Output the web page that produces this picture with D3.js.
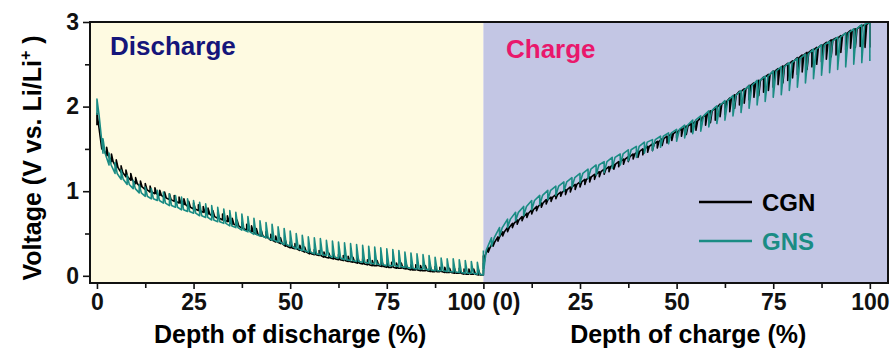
<!DOCTYPE html>
<html>
<head>
<meta charset="utf-8">
<script src="https://cdn.jsdelivr.net/npm/d3@7"></script>
<style>
  body { margin: 0; background: #fff; }
  svg { display: block; font-family: "Liberation Sans", Arial, sans-serif; }
</style>
</head>
<body>
<div id="chart"></div>
<script>
// axis ticks
var xTickValues = [0, 25, 50, 75, 100, 125, 150, 175, 200];
var xTickLabels = ["0", "25", "50", "75", "100 (0)", "25", "50", "75", "100"];
var xMinorValues = [12.5, 37.5, 62.5, 87.5, 112.5, 137.5, 162.5, 187.5];
var yTickValues = [0, 1, 2, 3];
var yMinorValues = [0.5, 1.5, 2.5];

// GITT pulses, equally spaced in depth. "base" = voltage under current at each pulse boundary,
// "relax" = relaxed voltage reached at that boundary (the spike tip)
var gnsDischargeBase = [1.90,1.45,1.31,1.21,1.14,1.08,1.03,0.98,0.94,0.91,0.89,0.86,0.83,0.81,0.78,0.76,0.74,
  0.71,0.69,0.66,0.64,0.62,0.59,0.57,0.54,0.52,0.49,0.47,0.45,0.42,0.40,0.37,0.35,0.32,0.30,0.28,0.26,0.25,
  0.24,0.22,0.21,0.19,0.18,0.17,0.16,0.15,0.14,0.13,0.12,0.12,0.11,0.10,0.09,0.08,0.08,0.07,0.06,0.06,0.05,
  0.045,0.04,0.03,0.03,0.02,0.01];
var gnsDischargeRelax = [2.09,1.62,1.45,1.34,1.25,1.19,1.13,1.08,1.05,1.03,1.01,0.99,0.97,0.95,0.93,0.91,0.89,
  0.87,0.85,0.83,0.81,0.79,0.77,0.75,0.73,0.70,0.68,0.65,0.63,0.61,0.58,0.56,0.53,0.50,0.48,0.46,0.45,0.44,
  0.42,0.41,0.40,0.39,0.38,0.37,0.36,0.35,0.34,0.33,0.32,0.31,0.30,0.28,0.27,0.26,0.25,0.24,0.22,0.21,0.20,
  0.20,0.19,0.18,0.17,0.16,0.15];

var cgnDischargeBase = [1.78,1.50,1.42,1.35,1.28,1.22,1.17,1.13,1.09,1.05,1.02,0.99,0.97,0.95,0.92,0.90,0.88,
  0.86,0.84,0.81,0.79,0.77,0.75,0.73,0.70,0.68,0.66,0.64,0.61,0.59,0.56,0.54,0.52,0.49,0.47,0.45,0.42,0.40,
  0.38,0.35,0.33,0.32,0.30,0.28,0.26,0.25,0.24,0.22,0.21,0.20,0.19,0.18,0.17,0.16,0.15,0.14,0.13,0.12,0.12,
  0.11,0.10,0.10,0.09,0.09,0.08,0.07,0.07,0.06,0.06,0.05,0.05,0.05,0.04,0.04,0.03,0.03,0.02,0.02,0.02,0.01,0.01];
var cgnDischargeRelax = [1.92,1.62,1.52,1.44,1.37,1.30,1.25,1.21,1.16,1.12,1.09,1.06,1.04,1.01,0.99,0.97,0.95,
  0.93,0.91,0.88,0.86,0.84,0.82,0.80,0.77,0.75,0.73,0.71,0.68,0.66,0.63,0.61,0.59,0.56,0.54,0.52,0.49,0.47,
  0.45,0.42,0.40,0.38,0.36,0.34,0.32,0.31,0.30,0.28,0.27,0.26,0.25,0.24,0.23,0.22,0.21,0.20,0.19,0.18,0.18,
  0.17,0.16,0.16,0.15,0.15,0.14,0.13,0.13,0.12,0.12,0.11,0.11,0.10,0.10,0.09,0.09,0.09,0.08,0.08,0.08,0.07,0.07];

var gnsChargeBase = [0.30,0.45,0.57,0.67,0.75,0.82,0.89,0.95,1.01,1.06,1.11,1.16,1.21,1.26,1.31,1.35,1.40,
  1.44,1.49,1.53,1.58,1.61,1.65,1.69,1.73,1.78,1.84,1.89,1.95,2.01,2.07,2.13,2.19,2.25,2.31,2.36,2.42,2.47,
  2.52,2.57,2.62,2.68,2.73,2.77,2.82,2.87,2.92,2.97,3.00];
var gnsChargeRelax = [0.03,0.35,0.47,0.57,0.65,0.71,0.78,0.84,0.90,0.95,1.00,1.05,1.10,1.15,1.19,1.22,1.27,
  1.31,1.36,1.40,1.45,1.48,1.52,1.56,1.59,1.63,1.68,1.71,1.76,1.80,1.84,1.89,1.93,1.98,2.02,2.06,2.11,2.14,
  2.19,2.23,2.28,2.33,2.37,2.40,2.44,2.47,2.50,2.52,2.54];

var cgnChargeBase = [0.24,0.33,0.40,0.46,0.52,0.57,0.62,0.66,0.70,0.74,0.78,0.82,0.86,0.90,0.93,0.96,0.99,
  1.02,1.05,1.08,1.11,1.14,1.17,1.20,1.23,1.26,1.29,1.32,1.35,1.38,1.41,1.44,1.47,1.50,1.53,1.56,1.59,1.62,
  1.65,1.68,1.71,1.74,1.77,1.80,1.83,1.87,1.91,1.95,1.99,2.03,2.06,2.10,2.14,2.18,2.21,2.25,2.28,2.31,2.35,
  2.38,2.42,2.45,2.48,2.51,2.54,2.58,2.61,2.64,2.67,2.70,2.73,2.76,2.79,2.81,2.84,2.87,2.90,2.92,2.95,2.97,3.00];
var cgnChargeRelax = [0.08,0.28,0.35,0.41,0.47,0.52,0.57,0.61,0.65,0.69,0.73,0.77,0.81,0.85,0.88,0.91,0.94,
  0.96,0.99,1.02,1.05,1.08,1.11,1.14,1.17,1.20,1.23,1.26,1.29,1.32,1.35,1.38,1.40,1.43,1.46,1.48,1.51,1.54,
  1.57,1.60,1.63,1.65,1.67,1.70,1.72,1.75,1.78,1.81,1.84,1.88,1.91,1.94,1.98,2.02,2.04,2.08,2.11,2.13,2.17,
  2.19,2.23,2.26,2.28,2.31,2.34,2.38,2.41,2.44,2.47,2.50,2.53,2.56,2.59,2.61,2.64,2.67,2.69,2.70,2.71,2.70,2.70];

var margin = {top: 22, left: 90, bottom: 73, right: 7};
var width = 895 - margin.left - margin.right;
var height = 356 - margin.top - margin.bottom;

var svg = d3.select("#chart").append("svg")
  .attr("width", 895)
  .attr("height", 356)
  .append("g")
  .attr("transform", "translate(" + margin.left + "," + margin.top + ")");

var xScale = d3.scaleLinear().domain([-1.8, 204.7]).range([0, width]);
var yScale = d3.scaleLinear().domain([-0.085, 3]).range([height, 0]);

// panel backgrounds
svg.append("rect")
  .attr("x", 0).attr("y", 0)
  .attr("width", xScale(100)).attr("height", height)
  .attr("fill", "#fefae1");
svg.append("rect")
  .attr("x", xScale(100)).attr("y", 0)
  .attr("width", width - xScale(100)).attr("height", height)
  .attr("fill", "#c3c6e4");

svg.append("clipPath").attr("id", "plotclip")
  .append("rect").attr("width", width).attr("height", height);

// build a sawtooth: spike to relaxed voltage at each boundary, then back under current
function pulses(base, relax, offset) {
  var n = base.length - 1, step = 100 / n, w = 0.35 * step;
  var pts = [];
  base.forEach(function(b, i) {
    var d = offset + i * step;
    pts.push([d, b]);
    pts.push([d, relax[i]]);
    if (i < n) pts.push([d + w, b]);
  });
  return pts;
}

var line = d3.line()
  .x(d => xScale(d[0]))
  .y(d => yScale(d[1]));

var series = [
  {pts: pulses(cgnDischargeBase, cgnDischargeRelax, 0), color: "#000", w: 1.6},
  {pts: pulses(cgnChargeBase, cgnChargeRelax, 100), color: "#000", w: 1.6},
  {pts: pulses(gnsDischargeBase, gnsDischargeRelax, 0), color: "#1a8c84", w: 1.6},
  {pts: pulses(gnsChargeBase, gnsChargeRelax, 100), color: "#1a8c84", w: 1.6}
];

svg.append("g").attr("clip-path", "url(#plotclip)")
  .selectAll("path.curve")
  .data(series)
  .enter().append("path")
  .attr("class", "curve")
  .attr("d", d => line(d.pts))
  .attr("fill", "none")
  .attr("stroke", d => d.color)
  .attr("stroke-width", d => d.w)
  .attr("stroke-linejoin", "round");

// frame
svg.append("rect")
  .attr("width", width).attr("height", height)
  .attr("fill", "none")
  .attr("stroke", "#111")
  .attr("stroke-width", 2);

// axes
svg.append("g")
  .attr("transform", "translate(0," + height + ")")
  .call(d3.axisBottom(xScale).tickValues(xTickValues).tickSize(6).tickPadding(5)
    .tickFormat((d, i) => xTickLabels[i]));
svg.append("g")
  .attr("transform", "translate(0," + height + ")")
  .call(d3.axisBottom(xScale).tickValues(xMinorValues).tickSize(5).tickFormat(""));

svg.append("g")
  .call(d3.axisLeft(yScale).tickValues(yTickValues).tickSize(7).tickPadding(4).tickFormat(d3.format("d")));
svg.append("g")
  .call(d3.axisLeft(yScale).tickValues(yMinorValues).tickSize(5).tickFormat(""));

svg.selectAll(".domain").remove();
svg.selectAll(".tick line").attr("stroke", "#111").attr("stroke-width", 1.6);
svg.selectAll(".tick text")
  .attr("font-family", "'Liberation Sans', Arial, sans-serif")
  .attr("font-size", 23)
  .attr("font-weight", "bold")
  .attr("fill", "#111");

// axis titles
svg.append("text")
  .attr("x", xScale(50)).attr("y", 321)
  .attr("text-anchor", "middle")
  .attr("font-size", 25).attr("font-weight", "bold")
  .text("Depth of discharge (%)");
svg.append("text")
  .attr("x", xScale(153)).attr("y", 321)
  .attr("text-anchor", "middle")
  .attr("font-size", 25).attr("font-weight", "bold")
  .text("Depth of charge (%)");

var ytitle = svg.append("text")
  .attr("transform", "translate(-49," + 136 + ") rotate(-90)")
  .attr("text-anchor", "middle")
  .attr("font-size", 25).attr("font-weight", "bold");
ytitle.append("tspan").text("Voltage (V vs. Li/Li");
ytitle.append("tspan").attr("dy", -10).attr("font-size", 16).text("+");
ytitle.append("tspan").attr("dy", 10).text(" )");

// panel labels
svg.append("text")
  .attr("x", 20).attr("y", 33)
  .attr("font-size", 26).attr("font-weight", "bold")
  .attr("fill", "#15157a")
  .text("Discharge");
svg.append("text")
  .attr("x", 416).attr("y", 36)
  .attr("font-size", 26).attr("font-weight", "bold")
  .attr("fill", "#e9186c")
  .text("Charge");

// legend
var legend = [{name: "CGN", color: "#000"}, {name: "GNS", color: "#1a8c84"}];
var lg = svg.selectAll(".legend")
  .data(legend)
  .enter().append("g")
  .attr("class", "legend")
  .attr("transform", (d, i) => "translate(609," + (180 + i * 39) + ")");
lg.append("line")
  .attr("x1", 0).attr("x2", 53)
  .attr("stroke", d => d.color)
  .attr("stroke-width", 2.5);
lg.append("text")
  .attr("x", 63).attr("y", 8.5)
  .attr("font-size", 24).attr("font-weight", "bold")
  .attr("fill", d => d.color)
  .text(d => d.name);
</script>
</body>
</html>
